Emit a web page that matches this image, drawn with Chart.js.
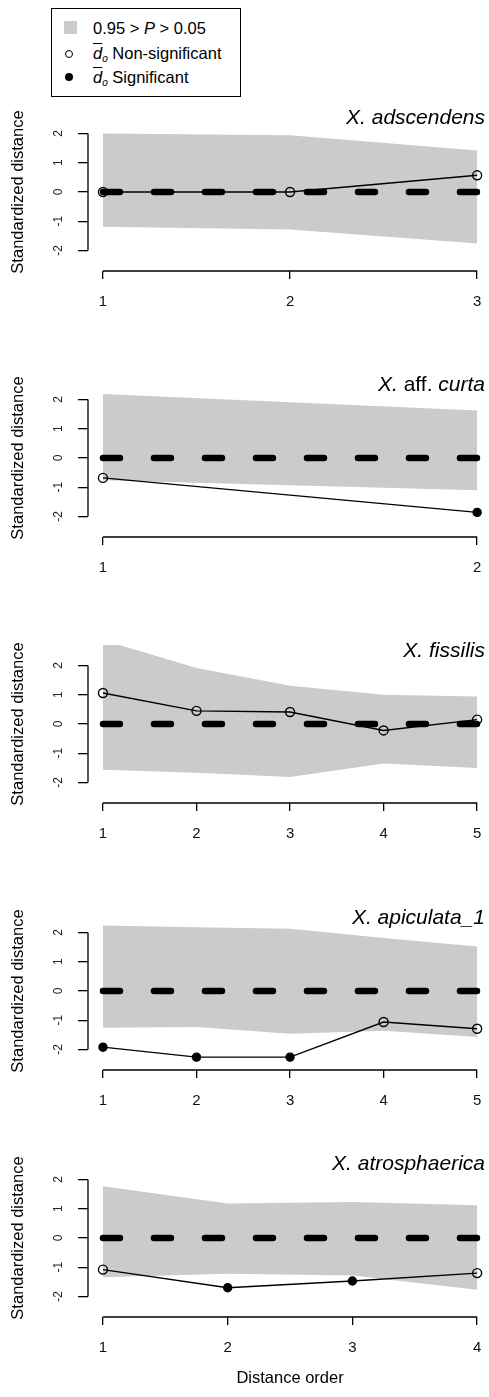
<!DOCTYPE html>
<html>
<head>
<meta charset="utf-8">
<script src="https://cdn.jsdelivr.net/npm/chart.js@4"></script>
<style>
  body { margin: 0; background: #fff; }
  #page { position: relative; width: 489px; height: 1397px; overflow: hidden; font-family: 'Liberation Sans', Arial, sans-serif; color: #000; }
  .panel { position: absolute; left: 0; }
  .title { position: absolute; right: 4px; font-size: 21px; line-height: 21px; white-space: nowrap; }
  .legend { position: absolute; left: 51px; top: 8px; width: 190px; height: 89px; box-sizing: border-box; border: 1px solid #000; }
  .row { position: absolute; left: 93px; font-size: 16.5px; line-height: 20px; white-space: nowrap; }
  .sym { position: absolute; box-sizing: border-box; }
  sub { font-size: 10px; vertical-align: -3px; }
</style>
</head>
<body>
<div id="page">
  <div class="legend"></div>
  <div class="sym" style="left:63.5px; top:21px; width:13px; height:13px; background:#cbcbcb;"></div>
  <div class="sym" style="left:64.5px; top:49.5px; width:8px; height:8px; border:1.5px solid #000; border-radius:50%;"></div>
  <div class="sym" style="left:64.5px; top:73px; width:8px; height:8px; background:#000; border-radius:50%;"></div>
  <div class="row" style="top:17.7px;">0.95 &gt; <i>P</i> &gt; 0.05</div>
  <div class="row" style="top:43.3px;"><i style="text-decoration: overline;">d</i><sub><i>o</i></sub> Non-significant</div>
  <div class="row" style="top:66.7px;"><i style="text-decoration: overline;">d</i><sub><i>o</i></sub> Significant</div>
</div>
<script>
// panel titles
const panelTitles = [
  '<i>X. adscendens</i>',
  '<i>X.</i> aff. <i>curta</i>',
  '<i>X. fissilis</i>',
  '<i>X. apiculata_1</i>',
  '<i>X. atrosphaerica</i>'
];

// X. adscendens
const adsOrder = [1, 2, 3];
const adsUpper = [2.0, 1.94, 1.42];
const adsLower = [-1.19, -1.28, -1.76];
const adsObs = [0, 0, 0.57];
const adsSig = [false, false, false];

// X. aff. curta
const curOrder = [1, 2];
const curUpper = [2.19, 1.62];
const curLower = [-0.76, -1.1];
const curObs = [-0.68, -1.86];
const curSig = [false, true];

// X. fissilis
const fisOrder = [1, 2, 3, 4, 5];
const fisUpper = [2.87, 1.91, 1.31, 1.0, 0.94];
const fisLower = [-1.56, -1.67, -1.81, -1.35, -1.5];
const fisObs = [1.06, 0.45, 0.41, -0.22, 0.15];
const fisSig = [false, false, false, false, false];

// X. apiculata_1
const apiOrder = [1, 2, 3, 4, 5];
const apiUpper = [2.24, 2.18, 2.13, 1.81, 1.52];
const apiLower = [-1.26, -1.23, -1.46, -1.36, -1.57];
const apiObs = [-1.92, -2.26, -2.26, -1.06, -1.29];
const apiSig = [true, true, true, false, false];

// X. atrosphaerica
const atrOrder = [1, 2, 3, 4];
const atrUpper = [1.77, 1.18, 1.23, 1.12];
const atrLower = [-1.34, -1.22, -1.28, -1.77];
const atrObs = [-1.08, -1.70, -1.47, -1.20];
const atrSig = [false, true, true, false];

const yTicks = [-2, -1, 0, 1, 2];
const nullLevel = 0;

// layout (page pixels)
const zeroY = [191.7, 458.3, 724.3, 991.3, 1237.7];
const unitPx = 29.3;
const yLim = 2.7;
const padTop = 30;
const xAxisH = 80;
const plotH = 2 * yLim * unitPx;

Chart.defaults.font.family = "'Liberation Sans', Arial, sans-serif";
Chart.defaults.color = '#000';

// R-style axes: lines only between the outer ticks, y labels turned
const rAxes = {
  id: 'rAxes',
  afterDraw(chart) {
    const {ctx, chartArea, scales: {x, y}} = chart;
    const xt = x.ticks;
    ctx.save();
    ctx.strokeStyle = '#000';
    ctx.lineWidth = 1.3;
    ctx.beginPath();
    ctx.moveTo(chartArea.left, y.getPixelForValue(yTicks[0]));
    ctx.lineTo(chartArea.left, y.getPixelForValue(yTicks[yTicks.length - 1]));
    ctx.moveTo(x.getPixelForValue(xt[0].value), chartArea.bottom);
    ctx.lineTo(x.getPixelForValue(xt[xt.length - 1].value), chartArea.bottom);
    ctx.stroke();

    ctx.fillStyle = '#222';
    ctx.font = "12px 'Liberation Sans', Arial, sans-serif";
    ctx.textAlign = 'center';
    ctx.textBaseline = 'middle';
    y.ticks.forEach(t => {
      ctx.save();
      ctx.translate(chartArea.left - 29, y.getPixelForValue(t.value));
      ctx.rotate(-Math.PI / 2);
      ctx.fillText(String(t.value), 0, 0);
      ctx.restore();
    });
    ctx.restore();
  }
};

const panels = [
  [adsOrder, adsUpper, adsLower, adsObs, adsSig],
  [curOrder, curUpper, curLower, curObs, curSig],
  [fisOrder, fisUpper, fisLower, fisObs, fisSig],
  [apiOrder, apiUpper, apiLower, apiObs, apiSig],
  [atrOrder, atrUpper, atrLower, atrObs, atrSig]
];

const page = document.getElementById('page');

panels.forEach(([order, upper, lower, obs, sig], p) => {
  const n = order.length;
  const last = p === panels.length - 1;

  const wrap = document.createElement('div');
  wrap.className = 'panel';
  wrap.style.top = (zeroY[p] - yLim * unitPx - padTop) + 'px';
  const canvas = document.createElement('canvas');
  canvas.width = 498;
  canvas.height = Math.round(padTop + plotH + xAxisH);
  wrap.appendChild(canvas);
  page.appendChild(wrap);

  const title = document.createElement('div');
  title.className = 'title';
  title.style.top = (zeroY[p] - 68 - 17.8) + 'px';
  title.innerHTML = panelTitles[p];
  page.appendChild(title);

  new Chart(canvas, {
    type: 'line',
    data: {
      datasets: [
        {
          data: order.map((o, i) => ({x: o, y: obs[i]})),
          borderColor: '#000',
          borderWidth: 1.4,
          pointRadius: sig.map(s => s ? 4 : 4.5),
          pointBackgroundColor: sig.map(s => s ? '#000' : 'rgba(0,0,0,0)'),
          pointBorderColor: '#000',
          pointBorderWidth: 1.4,
          fill: false,
          order: 0
        },
        {
          data: order.map(o => ({x: o, y: nullLevel})),
          borderColor: '#000',
          borderWidth: 6.5,
          borderDash: [17, 34],
          borderCapStyle: 'round',
          pointRadius: 0,
          fill: false,
          order: 1
        },
        {
          data: order.map((o, i) => ({x: o, y: upper[i]})),
          borderWidth: 0,
          pointRadius: 0,
          backgroundColor: '#cbcbcb',
          fill: '+1',
          order: 2
        },
        {
          data: order.map((o, i) => ({x: o, y: lower[i]})),
          borderWidth: 0,
          pointRadius: 0,
          fill: false,
          order: 3
        }
      ]
    },
    options: {
      responsive: false,
      animation: false,
      devicePixelRatio: 1,
      layout: { padding: { top: padTop, left: 0, right: 0, bottom: 0 } },
      plugins: { legend: { display: false }, tooltip: { enabled: false } },
      scales: {
        x: {
          type: 'linear',
          min: 1 - 0.04 * (n - 1),
          max: n + 0.04 * (n - 1),
          afterBuildTicks: s => { s.ticks = order.map(v => ({value: v})); },
          afterFit: s => { s.height = xAxisH; },
          grid: { drawOnChartArea: false, tickLength: 8, color: '#000', lineWidth: 1.3 },
          border: { display: false },
          ticks: { font: { size: 15 }, padding: 14.2, autoSkip: false, maxRotation: 0, color: '#111' },
          title: {
            display: last,
            text: 'Distance order',
            font: { size: 16.5 },
            padding: { top: 0, bottom: 8.9 }
          }
        },
        y: {
          min: -yLim,
          max: yLim,
          afterBuildTicks: s => { s.ticks = yTicks.map(v => ({value: v})); },
          afterFit: s => { s.width = 88; },
          grid: { drawOnChartArea: false, tickLength: 10, color: '#000', lineWidth: 1.3 },
          border: { display: false },
          ticks: { display: false },
          title: {
            display: true,
            text: 'Standardized distance',
            font: { size: 16.5 },
            padding: { top: 9, bottom: 0 }
          }
        }
      }
    },
    plugins: [rAxes]
  });
});
</script>
</body>
</html>
